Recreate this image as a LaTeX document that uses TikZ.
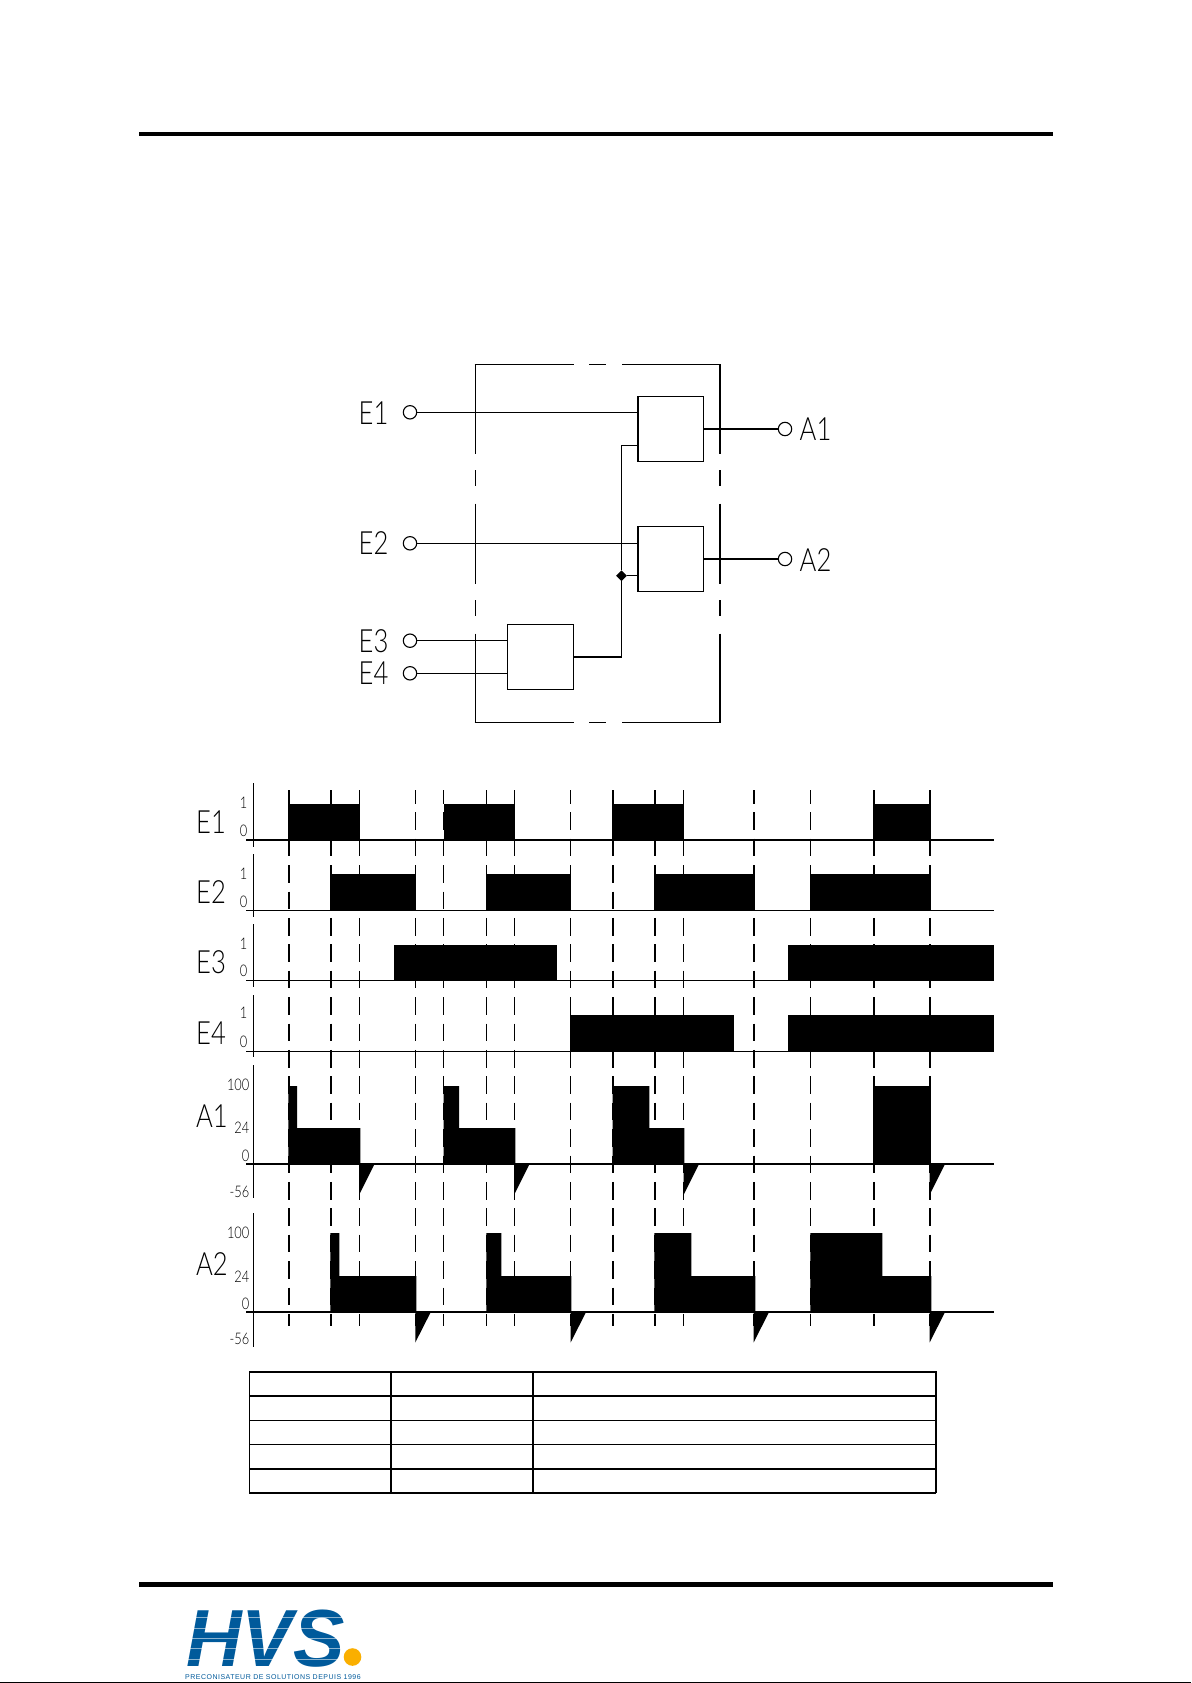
\documentclass[tikz,border=0pt]{standalone}
\usepackage{fontspec}
\usepackage{tikz}
\usetikzlibrary{positioning}
\usetikzlibrary{shapes.geometric}
\newfontfamily\isofont[FakeStretch=0.8,UprightFont={* Light}]{Lato}
\newfontfamily\logofont[FakeStretch=0.95]{Liberation Sans}
\newfontfamily\logosmall[LetterSpace=7]{Liberation Sans}
\definecolor{hvsblue}{RGB}{0,90,155}
\definecolor{hvsorange}{RGB}{250,175,0}

\tikzset{
  bigtext/.style={inner sep=0pt,anchor=west,font=\isofont\fontsize{32}{32}\selectfont},
  ticktext/.style={inner sep=0pt,anchor=east,font=\isofont\fontsize{16}{16}\selectfont},
  logicbox/.style={draw,rectangle,line width=1.1pt,minimum width=65.7pt,minimum height=65pt,inner sep=0pt,outer sep=0pt},
  terminal/.style={draw,circle,line width=1.1pt,minimum size=13.4pt,inner sep=0pt,outer sep=0pt},
  wire/.style={line width=1.1pt},
  frameline/.style={line width=1.7pt},
  thinaxis/.style={line width=1pt},
  boldaxis/.style={line width=2pt},
  timeline/.style={dash pattern=on 17.6pt off 8.8pt,dash phase=4.1pt}
}

\begin{document}
\begin{tikzpicture}[x=1pt,y=-1pt]
\useasboundingbox (0,0) rectangle (1191,1683);
\fill[white] (0,0) rectangle (1191,1683);

% page rules
\fill (139,132) rectangle (1053,136);
\fill (139,1582) rectangle (1053,1586.5);
\draw[line width=1pt] (0,1682.5) -- (1191,1682.5);

% frame of the unit
\foreach \xf in {475.5,720} {
  \draw[frameline] (\xf,364.5) -- (\xf,453.5);
  \draw[frameline] (\xf,470) -- (\xf,486);
  \draw[frameline] (\xf,503.5) -- (\xf,583.5);
  \draw[frameline] (\xf,600) -- (\xf,616);
  \draw[frameline] (\xf,633.5) -- (\xf,722.5);
}
\foreach \yf in {364.5,722.5} {
  \draw[frameline] (474.7,\yf) -- (573.5,\yf);
  \draw[frameline] (589,\yf) -- (605.7,\yf);
  \draw[frameline] (622,\yf) -- (720.8,\yf);
}

% logic blocks
\node[logicbox] (boxa) at (670.8,429) {};
\node[logicbox] (boxb) at (670.8,559) {};
\node[logicbox] (boxc) at (540.6,657) {};

% terminals
\node[terminal] (e1) at (410,412.3) {};
\node[terminal] (e2) at (410,543.3) {};
\node[terminal] (e3) at (410,640.7) {};
\node[terminal] (e4) at (410,673.3) {};
\node[terminal] (a1) at (785,429) {};
\node[terminal] (a2) at (785,559) {};
\node[bigtext] (le1) at (358.5,413) {E1};
\node[bigtext] (le2) at (358.5,543.5) {E2};
\node[bigtext] (le3) at (358.5,641) {E3};
\node[bigtext] (le4) at (358.5,673.5) {E4};
\node[bigtext] (la1) at (799.5,429.5) {A1};
\node[bigtext] (la2) at (799.5,560) {A2};

% wiring
\coordinate (bus) at (621.5,657);
\node[diamond,fill,inner sep=0pt,minimum size=11pt] (joint) at (621.5,575.7) {};
\draw[wire] (e1) -- (e1 -| boxa.west);
\draw[wire] (e2) -- (e2 -| boxb.west);
\draw[wire] (e3) -- (e3 -| boxc.west);
\draw[wire] (e4) -- (e4 -| boxc.west);
\draw[wire] (boxa) -- (a1);
\draw[wire] (boxb) -- (a2);
\draw[wire] (boxc.east) -- (bus) -- (joint);
\draw[wire] (joint) -- (joint |- 0,445.3) -- (boxa.west |- 0,445.3);
\draw[wire] (joint) -- (joint -| boxb.west);

% time marks
\foreach \xt in {289,331,613,655.3,754,874,930}
  \draw[timeline,line width=2pt] (\xt,790) -- (\xt,1326);
\foreach \xt in {359.6,415.6,443.6,486.6,514.6,570.6,683.6,810.6}
  \draw[timeline,line width=1.2pt] (\xt,790) -- (\xt,1326);

% E1
\foreach \xa/\xb in {288.3/360.3,443.6/515.3,612.3/684.3,873.3/931.3}
  \fill (\xa,804) rectangle (\xb,840);
% E2
\foreach \xa/\xb in {330.3/416.3,486.3/571.3,654.3/755.3,810.3/931.3}
  \fill (\xa,874) rectangle (\xb,910.5);
% E3
\foreach \xa/\xb in {394.3/557.3,788.3/994.3}
  \fill (\xa,945) rectangle (\xb,980.5);
% E4
\foreach \xa/\xb in {570.3/734.3,788.3/994.3}
  \fill (\xa,1015) rectangle (\xb,1051.5);
% A1
\foreach \xa/\xb/\xc in {288.3/297/360.3,443.6/459/515.3,612.6/649.3/684.3}
  \fill (\xa,1164) |- (\xb,1086) |- (\xc,1128) |- cycle;
\fill (873.3,1086) rectangle (931.3,1164);
\foreach \xa in {359,514,683.6,929.6}
  \fill (\xa,1164) -- (\xa,1195) -- (\xa+15.5,1164) -- cycle;
% A2
\foreach \xa/\xb/\xc in {330.3/339.3/416.3,486.3/501.3/571.3,654.3/691.3/755.3,810.3/882.3/931.3}
  \fill (\xa,1312) |- (\xb,1233) |- (\xc,1276) |- cycle;
\foreach \xa in {415.3,570.6,753.6,929.6}
  \fill (\xa,1312) -- (\xa,1342.5) -- (\xa+15.5,1312) -- cycle;

% axes
\draw[boldaxis] (246,839.7) -- (994.3,839.7);
\draw[thinaxis] (246,910.3) -- (994.3,910.3);
\draw[thinaxis] (246,980.3) -- (994.3,980.3);
\draw[thinaxis] (246,1051.3) -- (994.3,1051.3);
\draw[boldaxis] (246,1163.7) -- (994.3,1163.7);
\draw[boldaxis] (246,1311.7) -- (994.3,1311.7);
\foreach \ya/\yb in {783/847,854/917,924/987,995/1057,1065/1198,1213/1347}
  \draw[line width=1.1pt] (253.6,\ya) -- (253.6,\yb);

% row names
\node[bigtext] (re1) at (196,822) {E1};
\node[bigtext] (re2) at (196,892) {E2};
\node[bigtext] (re3) at (196,962) {E3};
\node[bigtext] (re4) at (196,1033) {E4};
\node[bigtext] (ra1) at (196,1116) {A1};
\node[bigtext] (ra2) at (196,1264) {A2};

% scale values
\foreach \ya/\yb/\nm in {803/831/e1,874/902/e2,944/971/e3,1013/1042/e4} {
  \node[ticktext] (one\nm) at (247.5,\ya) {1};
  \node[ticktext] (zero\nm) at (247.5,\yb) {0};
}
\foreach \ya/\yb/\yc/\yd/\nm in {1085/1128/1156/1192/a1,1233/1277/1304/1339/a2} {
  \node[ticktext] (full\nm) at (249.5,\ya) {100};
  \node[ticktext] (mid\nm) at (249.5,\yb) {24};
  \node[ticktext] (zero\nm) at (249.5,\yc) {0};
  \node[ticktext] (neg\nm) at (249.5,\yd) {-56};
}

% table
\draw[line width=1.5pt] (249.3,1371.7) rectangle (936,1492.7);
\draw[line width=2pt] (249.3,1371.7) -- (936,1371.7);
\draw[line width=2pt] (249.3,1492.7) -- (936,1492.7);
\draw[line width=2pt] (249.3,1395.7) -- (936,1395.7);
\draw[line width=1.2pt] (249.3,1420.3) -- (936,1420.3);
\draw[line width=1.2pt] (249.3,1444.3) -- (936,1444.3);
\draw[line width=2pt] (249.3,1468.7) -- (936,1468.7);
\draw[line width=1.2pt] (390.9,1371.7) -- (390.9,1492.7);
\draw[line width=2pt] (532.5,1371.7) -- (532.5,1492.7);

% logo
\node[inner sep=0pt,anchor=base west,text=hvsblue,font=\logofont\bfseries\itshape\fontsize{81}{81}\selectfont] (hvs) at (186,1666) {HVS};
\foreach \ys in {1617,1628,1638,1648,1659}
  \draw[white,opacity=0.55,line width=0.9pt] (180,\ys) -- (346,\ys);
\node[circle,fill=hvsorange,inner sep=0pt,minimum size=17.6pt] (dot) at (352.5,1657) {};
\node[inner sep=0pt,anchor=west,text=hvsblue,font=\logosmall\fontsize{7}{8}\selectfont] (slogan) at (185,1677) {PRECONISATEUR DE SOLUTIONS DEPUIS 1996};
\end{tikzpicture}
\end{document}
